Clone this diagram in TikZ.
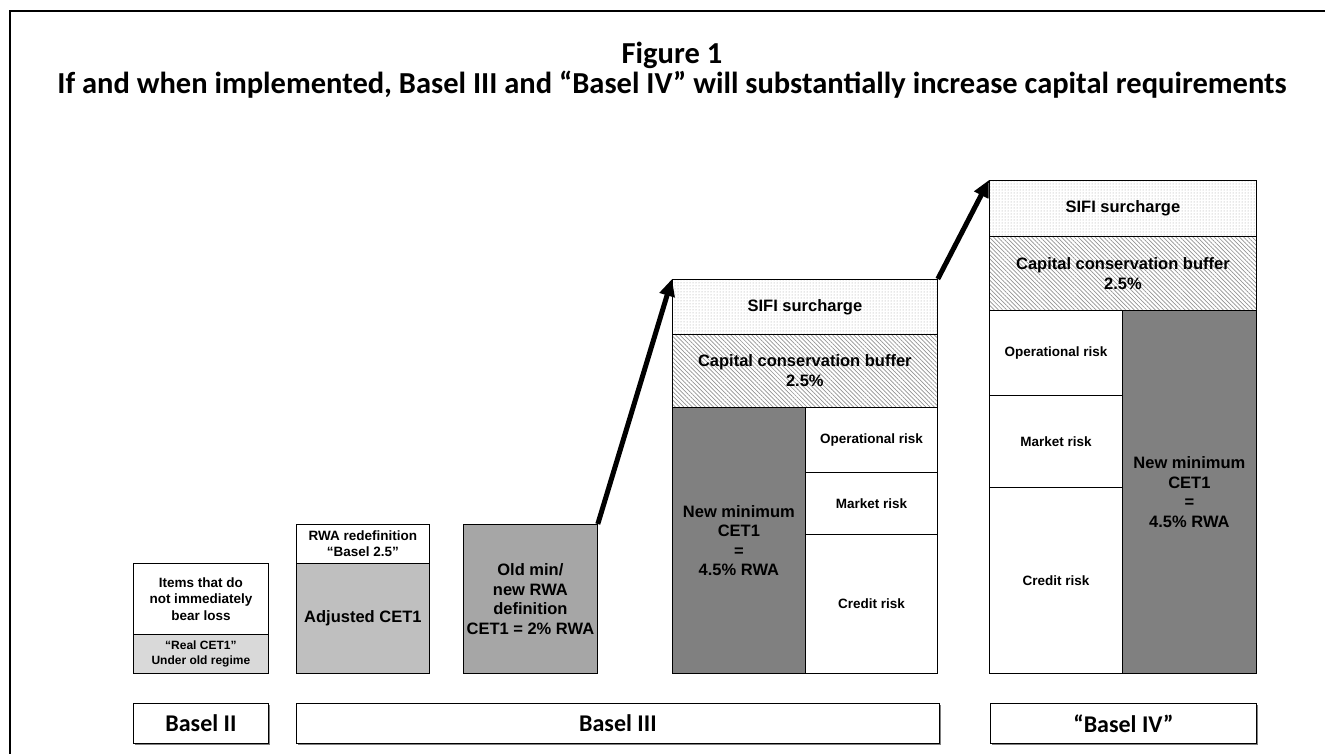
\documentclass[tikz,border=0pt]{standalone}
\usepackage{fontspec}
\setmainfont{Liberation Sans}
\newfontfamily\calfont{Carlito}
\usetikzlibrary{arrows.meta,patterns.meta}
\definecolor{lgray}{HTML}{D9D9D9}
\definecolor{mgray}{HTML}{BFBFBF}
\definecolor{dgray}{HTML}{A6A6A6}
\definecolor{vgray}{HTML}{808080}
\begin{document}
\begin{tikzpicture}[x=1pt,y=-1pt,
  box/.style={draw=black, line width=0.8pt, anchor=north west, inner sep=0pt, align=center},
  big/.style={font=\bfseries\fontsize{16.5}{19.5}\selectfont},
  small/.style={font=\bfseries\fontsize{13.5}{16.5}\selectfont},
  tiny/.style={font=\bfseries\fontsize{12}{15}\selectfont},
  label/.style={box, draw=black, font=\calfont\bfseries\fontsize{24}{28}\selectfont},
  dots/.style={pattern={Dots[radius=0.5pt,distance=3pt]}, pattern color=gray!75},
  hatch/.style={pattern={Lines[angle=-45,distance=3pt,line width=0.7pt]}, pattern color=gray!85},
  bigarrow/.style={line width=5pt, -{Triangle[length=17pt,width=15pt]}},
  titlefont/.style={font=\calfont\bfseries\fontsize{30.5}{34}\selectfont}
]
\fill[white] (0,0) rectangle (1325,754);
\useasboundingbox (0,0) rectangle (1325,754);
\draw[line width=2pt] (10,800) |- (1400,11);

\node[titlefont] (t1) at (672,55) {Figure 1};
\node[titlefont] (t2) at (672,85) {If and when implemented, Basel III and “Basel IV” will substantially increase capital requirements};

% Basel II
\node[box, small, minimum width=135, minimum height=71] (b2top) at (133,563) {Items that do\\not immediately\\bear loss};
\node[box, tiny, fill=lgray, minimum width=135, minimum height=39] (b2bot) at (133,634) {“Real CET1”\\Under old regime};

% Basel 2.5
\node[box, small, minimum width=133, minimum height=39] (rwa) at (296,524) {RWA redefinition\\“Basel 2.5”};
\node[box, big, fill=mgray, minimum width=133, minimum height=110] (adj) at (296,563) {Adjusted CET1};

% Old min
\node[box, big, fill=dgray, minimum width=134, minimum height=149] (old) at (463,524) {Old min/\\new RWA\\definition\\CET1 = 2\% RWA};

% Basel III stack
\node[box, big, dots, minimum width=265, minimum height=55] (b3sifi) at (672,279) {SIFI surcharge};
\node[box, big, hatch, minimum width=265, minimum height=73] (b3ccb) at (672,334) {Capital conservation buffer\\2.5\%};
\node[box, big, fill=vgray, minimum width=133, minimum height=266] (b3min) at (672,407) {New minimum\\CET1\\=\\4.5\% RWA};
\node[box, small, minimum width=132, minimum height=65] (b3op) at (805,407) {Operational risk};
\node[box, small, minimum width=132, minimum height=62] (b3mk) at (805,472) {Market risk};
\node[box, small, minimum width=132, minimum height=139] (b3cr) at (805,534) {Credit risk};

% Basel IV stack
\node[box, big, dots, minimum width=267, minimum height=56] (b4sifi) at (989,180) {SIFI surcharge};
\node[box, big, hatch, minimum width=267, minimum height=74] (b4ccb) at (989,236) {Capital conservation buffer\\2.5\%};
\node[box, small, minimum width=133, minimum height=85] (b4op) at (989,310) {Operational risk};
\node[box, small, minimum width=133, minimum height=92] (b4mk) at (989,395) {Market risk};
\node[box, small, minimum width=133, minimum height=186] (b4cr) at (989,487) {Credit risk};
\node[box, big, fill=vgray, minimum width=134, minimum height=363] (b4min) at (1122,310) {New minimum\\CET1\\=\\4.5\% RWA};

% arrows
\draw[bigarrow] (old.north east) -- (b3sifi.north west);
\draw[bigarrow] (b3sifi.north east) -- (b4sifi.north west);

% bottom labels
\fill[gray] (135,705) rectangle (270,745);
\node[label, fill=white, minimum width=135, minimum height=40] (l2) at (133,703) {Basel II};
\fill[gray] (298,705) rectangle (941,745);
\node[label, fill=white, minimum width=643, minimum height=40] (l3) at (296,703) {Basel III};
\fill[gray] (992,705) rectangle (1258,745);
\node[label, fill=white, minimum width=266, minimum height=40] (l4) at (990,703) {“Basel IV”};
\end{tikzpicture}
\end{document}
